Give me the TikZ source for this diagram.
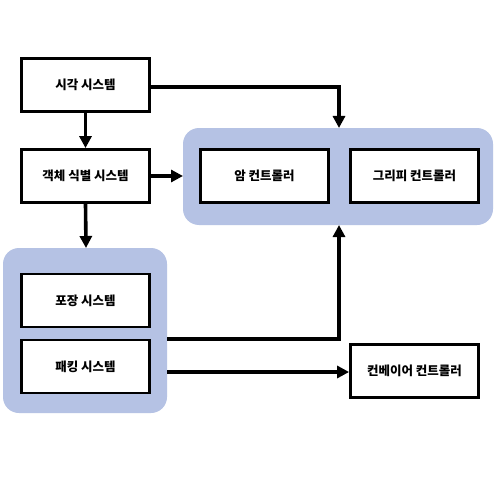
\documentclass[tikz,border=0pt]{standalone}
\usepackage{fontspec}
\setmainfont{Noto Sans CJK KR}
\usetikzlibrary{arrows.meta}
\definecolor{grpblue}{RGB}{181,194,228}
\tikzset{
  x=1pt,y=-1pt,
  sysbox/.style={draw=black,line width=2.8pt,fill=white,minimum width=128pt,minimum height=53pt,inner sep=0pt,font=\bfseries\fontsize{12.5}{14}\selectfont},
  grp/.style={fill=grpblue,rounded corners=16pt,draw=none},
  conn/.style={line width=3.6pt,-{Triangle[length=12pt,width=12pt]}},
  plain/.style={line width=3.6pt}
}
\begin{document}
\begin{tikzpicture}
\useasboundingbox (0,0) rectangle (500,500);
\fill[white] (0,0) rectangle (500,500);
% groups
\path[grp] (183,128) rectangle (493,225);
\path[grp] (3,248) rectangle (167,413);
\coordinate (g1top) at (339,128);
\coordinate (g1bot) at (339,225);
\coordinate (g2top) at (86,248);
\coordinate (g1left) at (183,176);
% nodes
\node[sysbox] (vis) at (85.5,85) {시각 시스템};
\node[sysbox] (obj) at (85.5,176) {객체 식별 시스템};
\node[sysbox] (arm) at (264.5,176) {암 컨트롤러};
\node[sysbox] (grip) at (414.5,176) {그리피 컨트롤러};
\node[sysbox] (pack) at (85.5,300.5) {포장 시스템};
\node[sysbox] (pak) at (85.5,366.5) {패킹 시스템};
\node[sysbox] (conv) at (414.5,371) {컨베이어 컨트롤러};
\coordinate (g2r1) at (167,339);
\coordinate (g2r2) at (167,372);
% connectors
\draw[conn] (vis.east |- 0,87) -| (g1top);
\draw[conn] (vis.south) -- (obj.north);
\draw[conn] (obj.east) -- (g1left);
\draw[conn] (obj.south) -- (g2top);
\draw[conn] (g2r1) -| (g1bot);
\draw[conn] (g2r2) -- (conv.west |- g2r2);
\end{tikzpicture}
\end{document}
